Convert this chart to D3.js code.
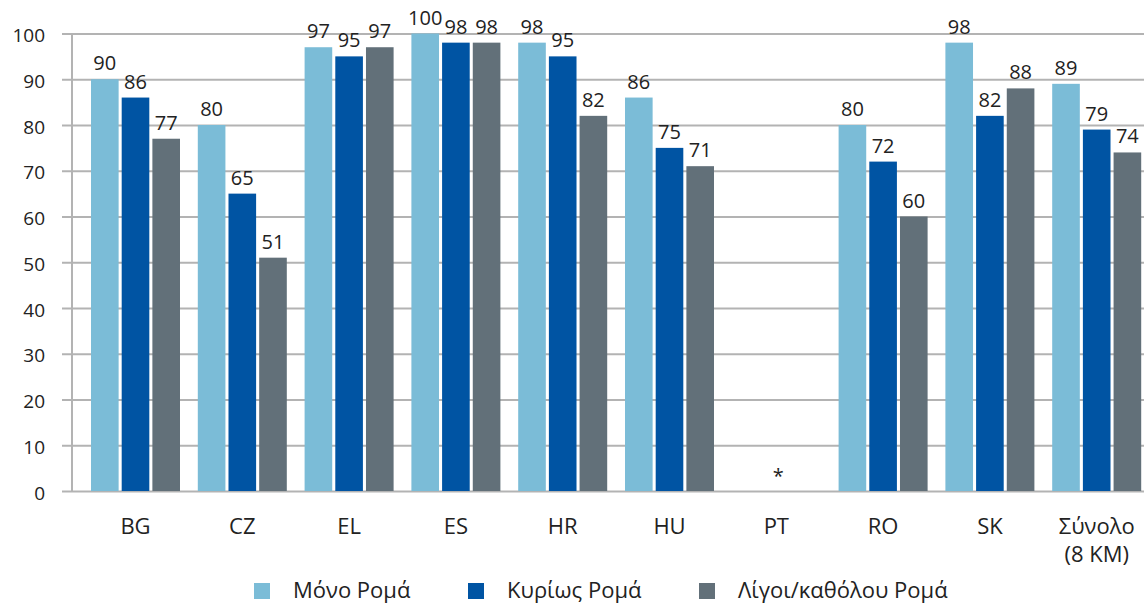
<!DOCTYPE html>
<html>
<head>
<meta charset="utf-8">
<script src="https://cdn.jsdelivr.net/npm/d3@7"></script>
<style>
  html, body { margin: 0; padding: 0; background: #fff; }
  svg { display: block; font-family: "Open Sans", "Noto Sans", sans-serif; }
</style>
</head>
<body>
<svg id="chart" width="1144" height="605"></svg>
<script>
// ---- data ----
const categories = ["BG", "CZ", "EL", "ES", "HR", "HU", "PT", "RO", "SK", "Σύνολο\n(8 KM)"];
const seriesNames = ["Μόνο Ρομά", "Κυρίως Ρομά", "Λίγοι/καθόλου Ρομά"];
const onlyRoma    = [90, 80, 97, 100, 98, 86, null, 80, 98, 89];
const mostlyRoma  = [86, 65, 95, 98, 95, 75, null, 72, 82, 79];
const fewNoRoma   = [77, 51, 97, 98, 82, 71, null, 60, 88, 74];
const missingMark = ["", "", "", "", "", "", "*", "", "", ""];
const yTicks = [0, 10, 20, 30, 40, 50, 60, 70, 80, 90, 100];

const seriesValues = [onlyRoma, mostlyRoma, fewNoRoma];
const colors = ["#7bbcd7", "#0054a3", "#627079"];
const textColor = "#222222";

const svg = d3.select("#chart");
const W = 1144;

const y = d3.scaleLinear().domain([0, 100]).range([491, 33.5]);
const step = 106.8;
const firstCenter = 135.5;
const x = d3.scaleBand().domain(categories)
  .range([firstCenter - step / 2, firstCenter - step / 2 + step * categories.length])
  .paddingInner(0).paddingOuter(0);
const groupW = 89;
const x1 = d3.scaleBand().domain(seriesNames).range([0, groupW]).paddingInner(0.1);

// gridlines + y labels
const yAxis = d3.axisLeft(y).tickValues(yTicks).tickSizeInner(-(W - 62)).tickSizeOuter(0).tickPadding(17);
const gy = svg.append("g").attr("transform", "translate(62,0)").call(yAxis);
gy.select(".domain").remove();
gy.selectAll(".tick line").attr("stroke", "#b3b3b3").attr("stroke-width", 2);
gy.selectAll(".tick text")
  .attr("fill", textColor).attr("font-size", 19)
  .attr("dy", 8).attr("font-family", "'Open Sans', sans-serif");

// vertical axis line
svg.append("line")
  .attr("x1", 72).attr("x2", 72)
  .attr("y1", y(100)).attr("y2", y(0))
  .attr("stroke", "#b3b3b3").attr("stroke-width", 2);

// bars
const rows = [];
categories.forEach((c, i) => {
  seriesNames.forEach((s, j) => {
    const v = seriesValues[j][i];
    if (v != null) rows.push({ c, s, j, v });
  });
});

const groupX = c => x(c) + x.bandwidth() / 2 - groupW / 2;

svg.append("g").selectAll("rect").data(rows).join("rect")
  .attr("x", d => groupX(d.c) + x1(d.s))
  .attr("width", x1.bandwidth())
  .attr("y", d => y(d.v))
  .attr("height", d => y(0) - y(d.v))
  .attr("fill", d => colors[d.j]);

// value labels
svg.append("g").selectAll("text").data(rows).join("text")
  .attr("x", d => groupX(d.c) + x1(d.s) + x1.bandwidth() / 2)
  .attr("y", d => y(d.v) - 9)
  .attr("text-anchor", "middle")
  .attr("font-size", 20)
  .attr("fill", textColor)
  .text(d => d.v);

// missing-data marks
svg.append("g").selectAll("text").data(categories.map((c, i) => ({ c, m: missingMark[i] })).filter(d => d.m))
  .join("text")
  .attr("x", d => x(d.c) + x.bandwidth() / 2 + 2)
  .attr("y", y(0) - 8)
  .attr("text-anchor", "middle")
  .attr("font-size", 20)
  .attr("fill", textColor)
  .text(d => d.m);

// category axis
const xAxis = d3.axisBottom(x).tickSize(0).tickPadding(0);
const gx = svg.append("g").call(xAxis);
gx.select(".domain").remove();
gx.selectAll(".tick text").each(function (d) {
  const t = d3.select(this);
  t.text(null).attr("y", 0).attr("dy", null)
    .attr("fill", textColor).attr("font-size", 22)
    .attr("font-family", "'Open Sans', sans-serif");
  d.split("\n").forEach((line, k) => {
    t.append("tspan").attr("x", 0).attr("y", 534 + k * 28).text(line);
  });
});

// legend
const legendX = [254, 468, 699];
const lg = svg.append("g").selectAll("g").data(seriesNames).join("g")
  .attr("transform", (d, i) => `translate(${legendX[i]},583)`);
lg.append("rect").attr("width", 16).attr("height", 16).attr("fill", (d, i) => colors[i]);
lg.append("text").attr("x", 39).attr("y", 15)
  .attr("font-size", 22).attr("fill", textColor).text(d => d);
</script>
</body>
</html>
